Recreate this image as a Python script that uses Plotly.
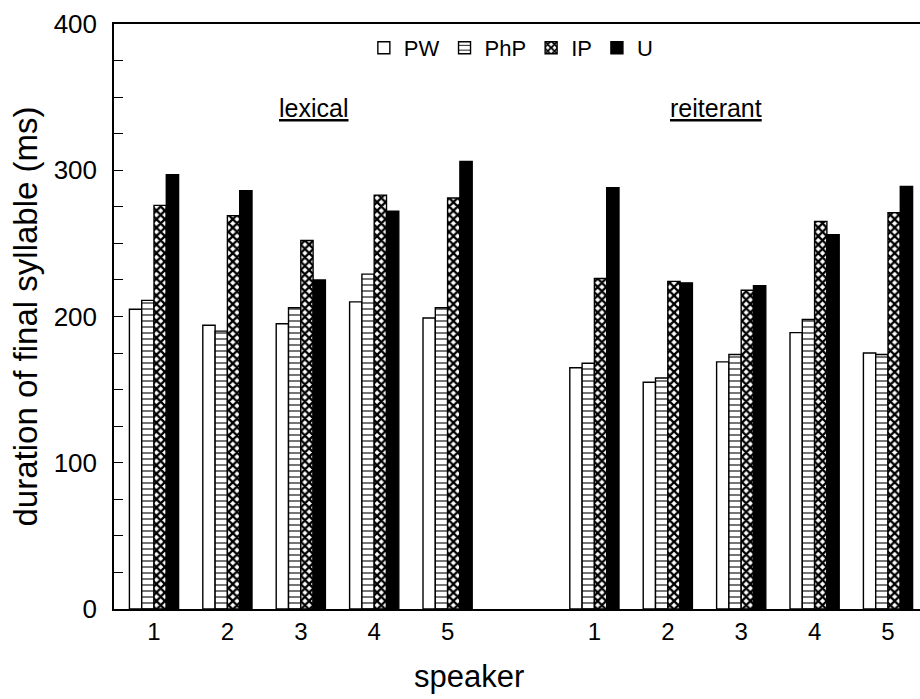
import plotly.graph_objects as go

# ---- data ----
speakers = ["1", "2", "3", "4", "5"]
conditions = ["lexical", "reiterant"]
series = ["PW", "PhP", "IP", "U"]

lexical_PW = [205, 194, 195, 210, 199]
lexical_PhP = [211, 190, 206, 229, 206]
lexical_IP = [276, 269, 252, 283, 281]
lexical_U = [297, 286, 225, 272, 306]

reiterant_PW = [165, 155, 169, 189, 175]
reiterant_PhP = [168, 158, 174, 198, 174]
reiterant_IP = [226, 224, 218, 265, 271]
reiterant_U = [288, 223, 221, 256, 289]

values = {
    "PW": lexical_PW + reiterant_PW,
    "PhP": lexical_PhP + reiterant_PhP,
    "IP": lexical_IP + reiterant_IP,
    "U": lexical_U + reiterant_U,
}

# x positions: speakers of each condition, with one empty slot between the two blocks
n = len(speakers)
xpos = [c * (n + 1) + i + 1 for c in range(len(conditions)) for i in range(n)]
xtext = speakers * len(conditions)

FONT = "Liberation Sans, Arial, Helvetica, sans-serif"

styles = {
    "PW": dict(color="white"),
    "PhP": dict(color="white",
                pattern=dict(shape="-", fgcolor="black", bgcolor="white",
                             size=6, solidity=0.18, fillmode="replace")),
    "IP": dict(color="white",
               pattern=dict(shape="x", fgcolor="black", bgcolor="white",
                            size=6, solidity=0.62, fillmode="replace")),
    "U": dict(color="black"),
}

fig = go.Figure()
for s in series:
    m = dict(styles[s])
    m["line"] = dict(color="black", width=1.4)
    fig.add_trace(go.Bar(x=xpos, y=values[s], name=s, marker=m))

fig.update_layout(
    width=920, height=699,
    margin=dict(l=114, r=0, t=24, b=90),
    paper_bgcolor="white", plot_bgcolor="white",
    barmode="group", bargap=0.33, bargroupgap=0,
    font=dict(family=FONT, color="black"),
    showlegend=True,
    legend=dict(orientation="h", x=0.31, xanchor="left", y=0.995, yanchor="top",
                bgcolor="rgba(0,0,0,0)", font=dict(size=22, family=FONT),
                itemwidth=30, traceorder="normal"),
)

fig.update_xaxes(
    range=[0.455, 11.436],
    tickmode="array", tickvals=xpos, ticktext=xtext,
    ticks="", showgrid=False, zeroline=False,
    showline=True, linecolor="black", linewidth=1.5, mirror=True,
    tickfont=dict(size=24, family=FONT), ticklabelstandoff=0,
)
fig.update_yaxes(
    range=[0, 400], tick0=0, dtick=100,
    ticks="inside", ticklen=9, tickwidth=1.3, tickcolor="black",
    minor=dict(dtick=25, tick0=0, ticks="inside", ticklen=9, tickwidth=1.3, tickcolor="black"),
    showgrid=False, zeroline=False,
    showline=True, linecolor="black", linewidth=1.5,
    tickfont=dict(size=26, family=FONT), ticklabelstandoff=10,
    title=dict(text="duration of final syllable (ms)", font=dict(size=33, family=FONT), standoff=6),
)

fig.add_annotation(text=conditions[0], xref="paper", yref="paper", x=0.248, y=0.856,
                   xanchor="center", yanchor="middle",
                   showarrow=False, font=dict(size=25, family=FONT, lineposition="under"))
fig.add_annotation(text=conditions[1], xref="paper", yref="paper", x=0.747, y=0.856,
                   xanchor="center", yanchor="middle",
                   showarrow=False, font=dict(size=25, family=FONT, lineposition="under"))
fig.add_annotation(text="speaker", xref="paper", yref="paper", x=0.44, y=-0.116,
                   xanchor="center", yanchor="middle",
                   showarrow=False, font=dict(size=31, family=FONT))

fig.write_html("out.html")
